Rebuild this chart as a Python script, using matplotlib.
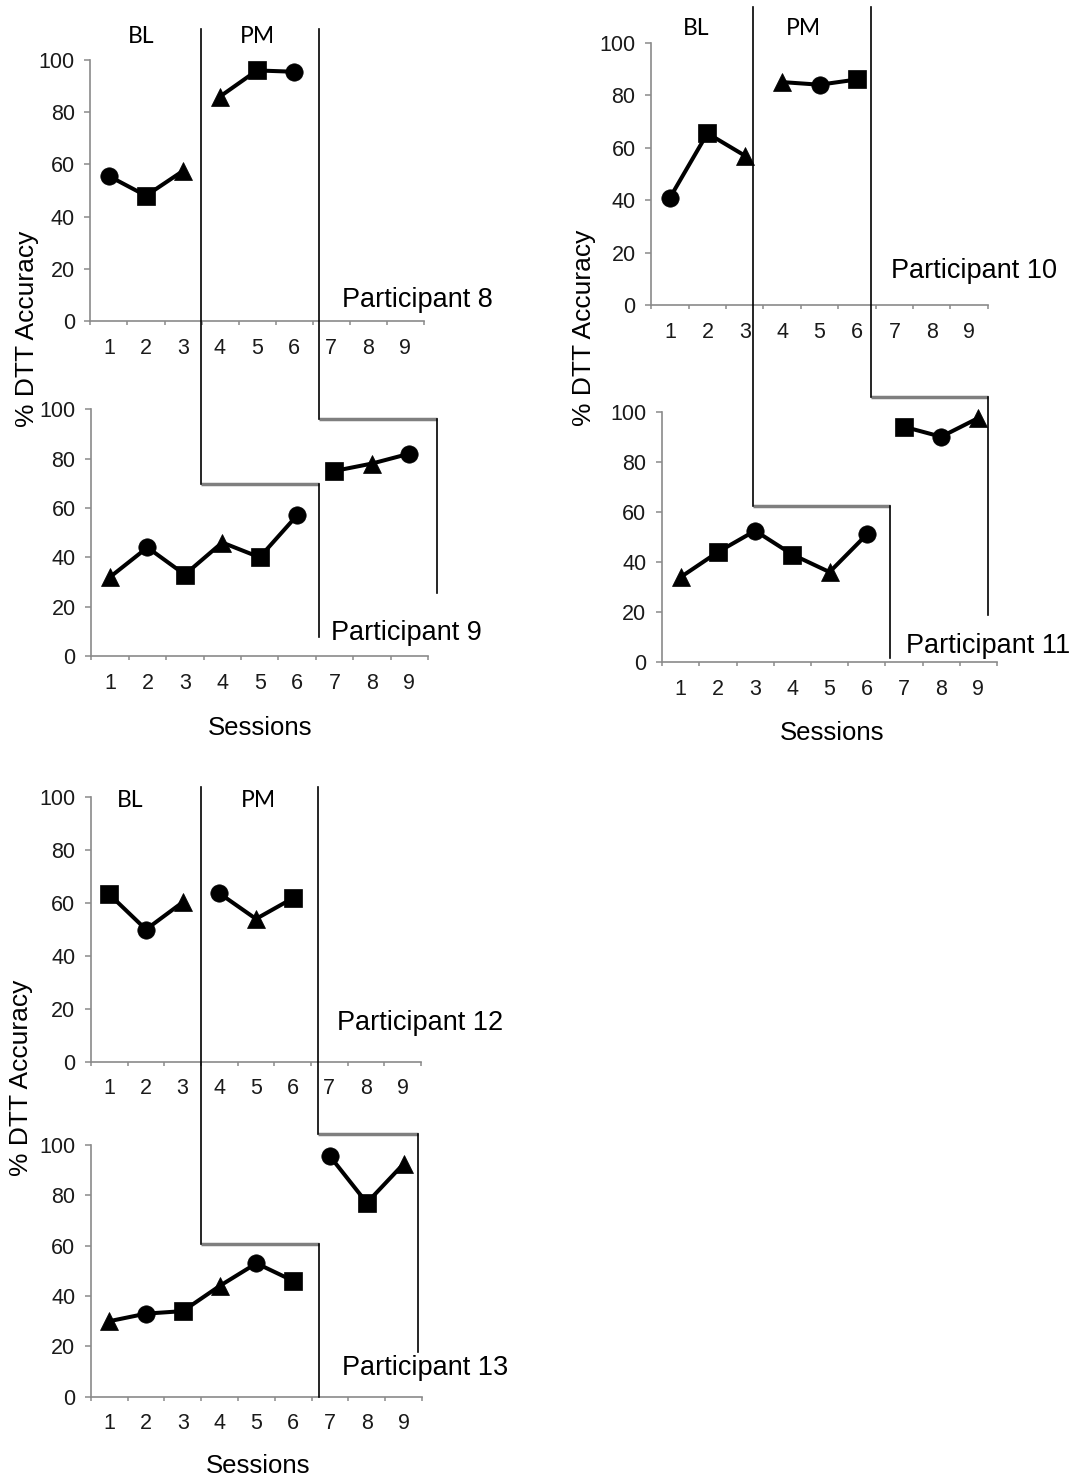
import numpy as np
import matplotlib
matplotlib.use("Agg")
import matplotlib.pyplot as plt
from matplotlib.lines import Line2D

plt.rcParams['font.family'] = ['Liberation Sans', 'DejaVu Sans']

# ---------------------------------------------------------------
# data: % DTT accuracy per session, marker per session
# ---------------------------------------------------------------
sessions = [1, 2, 3, 4, 5, 6, 7, 8, 9]
session_labels = ['1', '2', '3', '4', '5', '6', '7', '8', '9']
y_ticks = [0, 20, 40, 60, 80, 100]

# phase of each session (lines are broken between phases)
phases_early = [0, 0, 0, 1, 1, 1]
phases_late = [0, 0, 0, 0, 0, 0, 1, 1, 1]

p8_vals = [55.5, 48, 57.5, 86, 96, 95.5]
p8_marks = ['o', 's', '^', '^', 's', 'o']
p9_vals = [32, 44, 33, 46, 40, 57, 75, 78, 82]
p9_marks = ['^', 'o', 's', '^', 's', 'o', 's', '^', 'o']
p10_vals = [41, 65.5, 57, 85, 84, 86]
p10_marks = ['o', 's', '^', '^', 'o', 's']
p11_vals = [34, 44, 52.5, 43, 36, 51, 94, 90, 97.5]
p11_marks = ['^', 's', 'o', 's', '^', 'o', 's', 'o', '^']
p12_vals = [63.3, 50, 60.3, 63.7, 54, 61.8]
p12_marks = ['s', 'o', '^', 'o', '^', 's']
p13_vals = [30, 33, 34, 44, 53, 46, 95.5, 77, 92.5]
p13_marks = ['^', 'o', 's', '^', 'o', 's', 'o', 's', '^']

# ---------------------------------------------------------------
# layout (pixel boxes: x0, x1, y_top(=100), y_bottom(=0))
# ---------------------------------------------------------------
W, H = 1083, 1481
fig = plt.figure(figsize=(W / 100, H / 100), dpi=100)

def add_panel(x0, x1, ytop, ybot):
    return fig.add_axes([x0 / W, 1 - ybot / H, (x1 - x0) / W, (ybot - ytop) / H])

AXIS_GRAY = '#8a8a8a'

def style(ax):
    ax.set_xlim(0.5, 9.5)
    ax.set_ylim(0, 100)
    for s in ('top', 'right'):
        ax.spines[s].set_visible(False)
    for s in ('left', 'bottom'):
        ax.spines[s].set_color(AXIS_GRAY)
        ax.spines[s].set_linewidth(1.2)
    ax.set_yticks(y_ticks)
    ax.tick_params(axis='y', length=4.3, width=1.1, color=AXIS_GRAY, labelsize=15.5,
                   pad=7, labelcolor='#1a1a1a')
    ax.set_xticks(np.arange(0.5, 10, 1))
    ax.set_xticklabels([])
    ax.tick_params(axis='x', which='major', length=3, width=1.1, color=AXIS_GRAY)
    ax.set_xticks(sessions, minor=True)
    ax.set_xticklabels(session_labels, minor=True)
    ax.tick_params(axis='x', which='minor', length=0, labelsize=15.5, pad=12,
                   labelcolor='#1a1a1a')
    ax.patch.set_alpha(0)

def draw_series(ax, vals, marks, phases):
    n = len(vals)
    for ph in sorted(set(phases)):
        idx = [i for i in range(n) if phases[i] == ph]
        ax.plot([sessions[i] for i in idx], [vals[i] for i in idx], color='black',
                lw=2.9, clip_on=False, zorder=3)
    for i in range(n):
        ax.plot(sessions[i], vals[i], marker=marks[i], ms=12.5, color='black',
                mew=0.5, clip_on=False, zorder=4)

ax8 = add_panel(90.5, 423.5, 60, 321)
ax9 = add_panel(91.3, 428, 409.3, 656)
ax10 = add_panel(651.3, 987.9, 42.7, 305.3)
ax11 = add_panel(662.1, 997, 411.7, 662.3)
ax12 = add_panel(91, 421, 797.3, 1061.7)
ax13 = add_panel(90.9, 422, 1145, 1396.7)

for ax, vals, marks, phases in [(ax8, p8_vals, p8_marks, phases_early),
                                (ax9, p9_vals, p9_marks, phases_late),
                                (ax10, p10_vals, p10_marks, phases_early),
                                (ax11, p11_vals, p11_marks, phases_late),
                                (ax12, p12_vals, p12_marks, phases_early),
                                (ax13, p13_vals, p13_marks, phases_late)]:
    style(ax)
    draw_series(ax, vals, marks, phases)

# participant labels (data coords, baseline)
for ax, name, x, y in [(ax8, 'Participant 8', 7.31, 5.4), (ax9, 'Participant 9', 6.92, 6.5),
                       (ax10, 'Participant 10', 6.92, 10.3), (ax11, 'Participant 11', 7.05, 3.6),
                       (ax12, 'Participant 12', 7.2, 12), (ax13, 'Participant 13', 7.32, 8.6)]:
    ax.text(x, y, name, fontsize=19.5, ha='left', va='baseline', clip_on=False)

# phase labels
for ax, xb, xp, y in [(ax8, 1.87, 5.0, 106.4), (ax10, 1.7, 4.56, 103), (ax12, 1.57, 5.06, 96.2)]:
    ax.text(xb, y, 'BL', fontsize=16.5, family='Lato', ha='center', va='baseline', clip_on=False)
    ax.text(xp, y, 'PM', fontsize=16.5, family='Lato', ha='center', va='baseline', clip_on=False)

# sessions labels
for ax, frac, off in [(ax9, 0.5, 57), (ax11, 0.507, 56), (ax13, 0.506, 55)]:
    ax.annotate('Sessions', xy=(frac, 0), xycoords='axes fraction', xytext=(0, -off),
                textcoords='offset points', ha='center', va='baseline', fontsize=18.5)

# y labels
for xpx, ypx in [(27, 329), (584, 328), (21.5, 1077.5)]:
    fig.text(xpx / W, 1 - ypx / H, '% DTT Accuracy', rotation=90, fontsize=19,
             ha='center', va='center')

# ---------------------------------------------------------------
# phase change lines (multiple-baseline steps across panel pairs)
# (top ax, bottom ax, x_top, y_top, y_step, x_step_end, y_bottom)
# ---------------------------------------------------------------
steps = [
    (ax8, ax9, 3.48, 112, 69.6, 6.58, 7.8),
    (ax8, ax9, 6.67, 112, 96, 9.75, 25.4),
    (ax10, ax11, 3.23, 113.7, 62.5, 6.63, 1.6),
    (ax10, ax11, 6.38, 113.7, 106, 9.26, 18.9),
    (ax12, ax13, 3.49, 103.8, 60.7, 6.69, 0),
    (ax12, ax13, 6.70, 103.8, 104.4, 9.38, 17.6),
]

inv = fig.transFigure.inverted()

def fpt(ax_x, x, ax_y, y):
    px = ax_x.transData.transform((x, 0))[0]
    py = ax_y.transData.transform((0, y))[1]
    return inv.transform((px, py))

for top, bot, xt, yt, yh, xe, yb in steps:
    a = fpt(top, xt, top, yt)
    b = fpt(top, xt, bot, yh)
    c = fpt(bot, xe, bot, yh)
    d = fpt(bot, xe, bot, yb)
    fig.add_artist(Line2D([a[0], b[0]], [a[1], b[1]], color='black', lw=1.2, zorder=10))
    fig.add_artist(Line2D([b[0], c[0]], [b[1], c[1]], color='#7f7f7f', lw=2.5, zorder=9,
                          solid_capstyle='butt'))
    fig.add_artist(Line2D([c[0], d[0]], [c[1], d[1]], color='black', lw=1.2, zorder=10))

fig.savefig('out.png', dpi=100, facecolor='white')
